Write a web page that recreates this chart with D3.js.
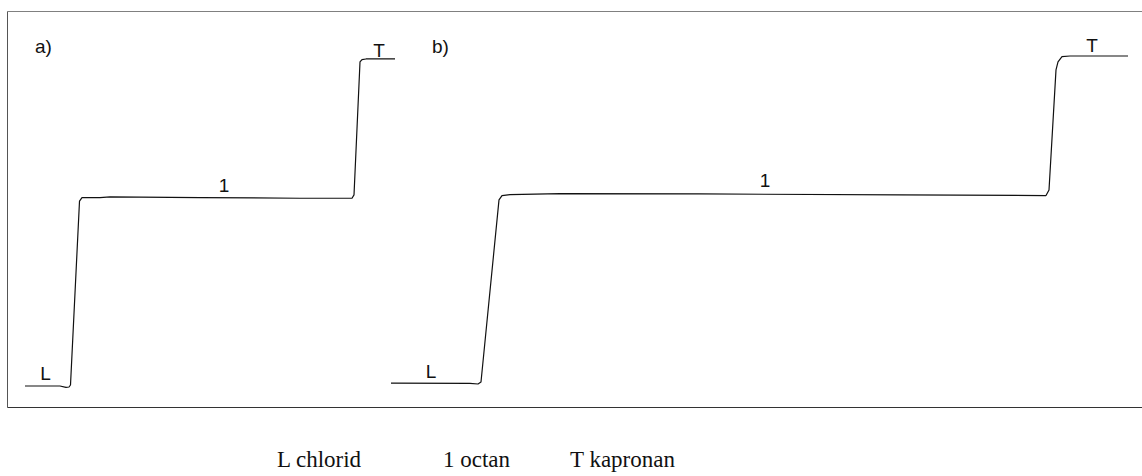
<!DOCTYPE html>
<html>
<head>
<meta charset="utf-8">
<script src="https://cdn.jsdelivr.net/npm/d3@7"></script>
<style>
    body { margin: 0; background: #fff; }
    svg { display: block; }
</style>
</head>
<body>
<div id="chart"></div>
<script>
    // trace a) : time (arbitrary units), signal (% of full scale)
    const timeA = [0, 3.5, 4.1, 4.4, 4.55, 5.45, 5.7, 7.5, 8.5, 17.5, 27.5, 32.7, 32.9, 33.5, 33.7, 34.1, 37];
    const signalA = [0, 0, -0.4, -0.3, 0.3, 56, 57.1, 57.1, 57.3, 57.1, 56.9, 56.9, 57.9, 98.2, 98.9, 99.1, 99.1];

    // trace b)
    const timeB = [0, 7.9, 8.7, 9.0, 10.8, 11.1, 11.9, 16.9, 30.9, 50.9, 65.5, 65.8, 66.5, 66.7, 67.1, 67.9, 73.7];
    const signalB = [0.9, 0.8, 0.6, 1.2, 56.4, 57.7, 58.0, 58.3, 58.2, 57.9, 57.7, 59.4, 95.8, 98.2, 99.8, 100, 100];

    // step labels: [time, signal, text]
    const labelsA = [[2.05, 0.3, 'L'], [19.9, 57.3, '1'], [35.4, 98.2, 'T']];
    const labelsB = [[4.0, 0.9, 'L'], [37.4, 58.8, '1'], [70.1, 99.7, 'T']];

    const panelTitles = ['a)', 'b)'];
    const legendItems = ['L chlorid', '1 octan', 'T kapronan'];

    const W = 1142, H = 476;

    const svg = d3.select('#chart')
        .append('svg')
        .attr('width', W)
        .attr('height', H);

    // frame (open on the right, it runs past the picture)
    svg.append('line').attr('x1', 7.5).attr('y1', 11.5).attr('x2', W + 5).attr('y2', 11.5)
        .attr('stroke', '#808080').attr('stroke-width', 1);
    svg.append('line').attr('x1', 7.5).attr('y1', 11.5).attr('x2', 7.5).attr('y2', 407.5)
        .attr('stroke', '#555').attr('stroke-width', 1);
    svg.append('line').attr('x1', 7.5).attr('y1', 407.5).attr('x2', W + 5).attr('y2', 407.5)
        .attr('stroke', '#333').attr('stroke-width', 1);

    const y = d3.scaleLinear()
        .domain([0, 100])
        .range([386, 56]);

    const xA = d3.scaleLinear()
        .domain([0, 37])
        .range([25, 395]);

    const xB = d3.scaleLinear()
        .domain([0, 73.7])
        .range([391, 1128]);

    function drawTrace(times, signals, x) {
        const pts = times.map((t, i) => [t, signals[i]]);
        const line = d3.line()
            .x(d => x(d[0]))
            .y(d => y(d[1]));
        svg.append('path')
            .datum(pts)
            .attr('d', line)
            .attr('fill', 'none')
            .attr('stroke', '#111')
            .attr('stroke-width', 1.2)
            .attr('stroke-linejoin', 'round');
    }

    function drawLabels(labels, x) {
        svg.selectAll(null)
            .data(labels)
            .enter()
            .append('text')
            .attr('x', d => x(d[0]))
            .attr('y', d => y(d[1]) - 5)
            .attr('text-anchor', 'middle')
            .style('font-family', 'Arial, "Liberation Sans", sans-serif')
            .style('font-size', '19px')
            .attr('fill', '#111')
            .text(d => d[2]);
    }

    drawTrace(timeA, signalA, xA);
    drawTrace(timeB, signalB, xB);
    drawLabels(labelsA, xA);
    drawLabels(labelsB, xB);

    svg.selectAll('.panel-title')
        .data(panelTitles)
        .enter()
        .append('text')
        .attr('class', 'panel-title')
        .attr('x', (d, i) => i === 0 ? 35 : 432)
        .attr('y', 53)
        .style('font-family', 'Arial, "Liberation Sans", sans-serif')
        .style('font-size', '19px')
        .attr('fill', '#111')
        .text(d => d);

    const legendX = [277, 443, 570];
    svg.selectAll('.legend')
        .data(legendItems)
        .enter()
        .append('text')
        .attr('class', 'legend')
        .attr('x', (d, i) => legendX[i])
        .attr('y', 467)
        .style('font-family', '"Liberation Serif", "Times New Roman", serif')
        .style('font-size', '23px')
        .attr('fill', '#111')
        .text(d => d);
</script>
</body>
</html>
